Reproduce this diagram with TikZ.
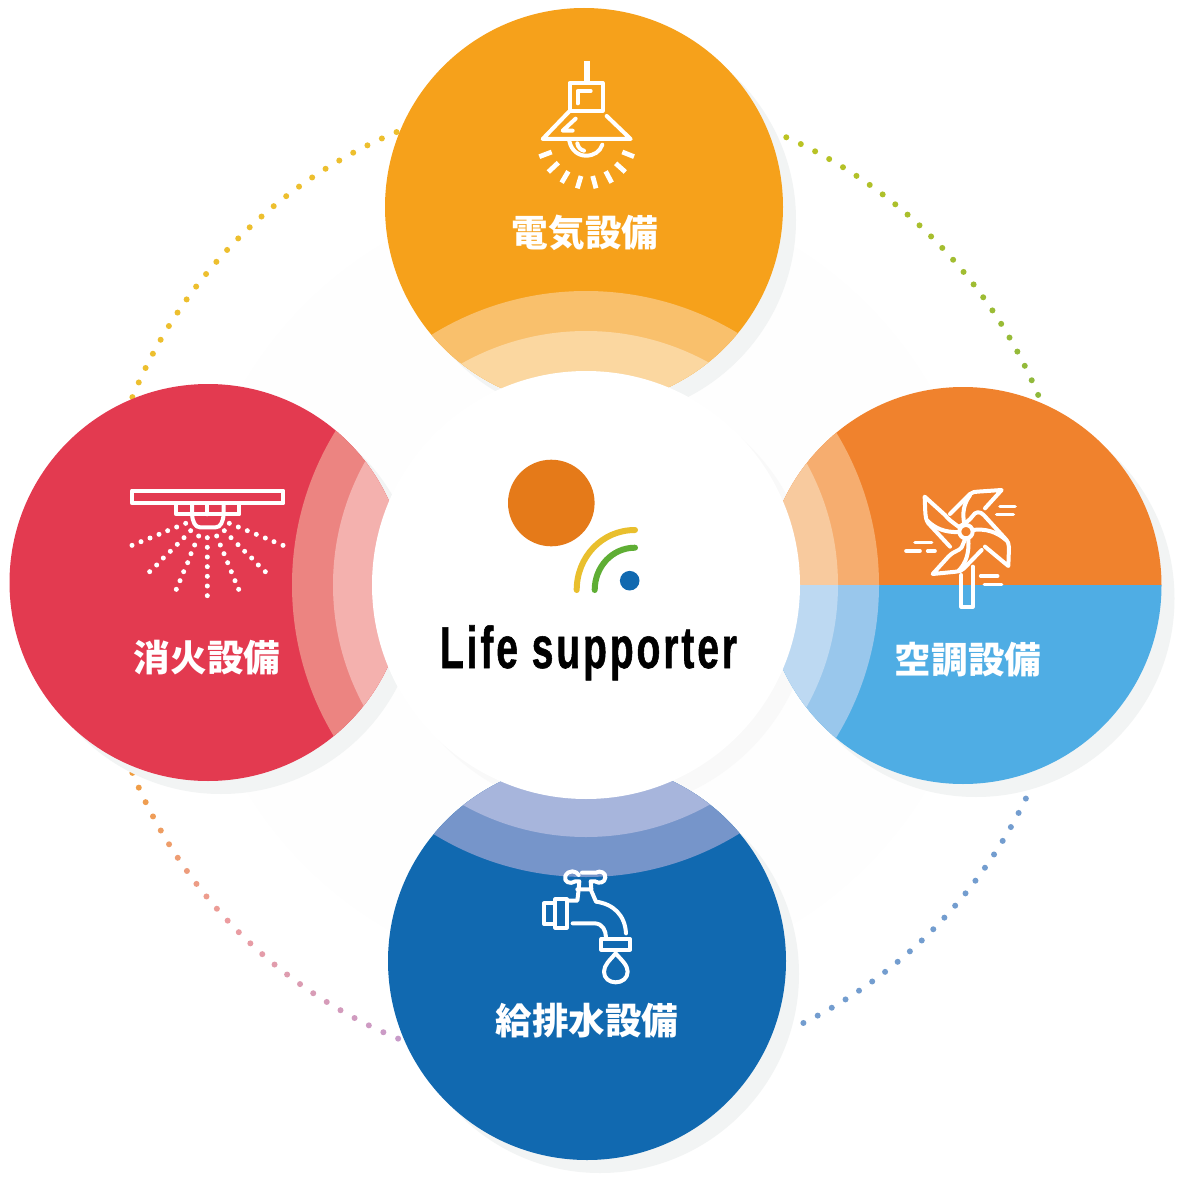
\documentclass[tikz,border=0pt]{standalone}
\usepackage{fontspec}
\newfontfamily\cjk{Noto Sans CJK JP}
\newfontfamily\lifefont[FakeStretch=0.66,LetterSpace=5,FakeBold=0.9]{Liberation Sans Bold}
\definecolor{shadowc}{HTML}{F2F4F4}
\definecolor{faintc}{HTML}{FEFEFE}
\definecolor{centershadow}{HTML}{F9F9F9}
\definecolor{ybase}{HTML}{F6A11B}\definecolor{ymid}{HTML}{F9C06C}\definecolor{ylight}{HTML}{FBD7A0}
\definecolor{obase}{HTML}{F0822D}\definecolor{omid}{HTML}{F6AD6F}\definecolor{olight}{HTML}{F8CA9E}
\definecolor{cbase}{HTML}{4FADE4}\definecolor{cmid}{HTML}{99C7EC}\definecolor{clight}{HTML}{BDD9F2}
\definecolor{bbase}{HTML}{1169B0}\definecolor{bmid}{HTML}{7695CA}\definecolor{blight}{HTML}{A7B5DC}
\definecolor{rbase}{HTML}{E33A50}\definecolor{rmid}{HTML}{EC8481}\definecolor{rlight}{HTML}{F4B1AE}
\definecolor{dotTRa}{HTML}{BCC322}\definecolor{dotTRb}{HTML}{8FB93C}
\definecolor{dotTL}{HTML}{EDBF2E}
\definecolor{dotBLa}{HTML}{F09D3E}\definecolor{dotBLb}{HTML}{EC9C9F}\definecolor{dotBLc}{HTML}{C89BC9}
\definecolor{dotBR}{HTML}{739DCF}
\definecolor{logoO}{HTML}{E57A19}\definecolor{logoY}{HTML}{E9BF2D}\definecolor{logoG}{HTML}{5FAE34}
\tikzset{
  iconline/.style={draw=white,line width=4pt,line join=round,line cap=round,fill=none},
  iconthick/.style={draw=white,line width=4.8pt,line cap=butt,fill=none},
  windline/.style={draw=white,line width=3.6pt,line cap=round},
  label/.style={text=white,inner sep=0pt,font=\cjk\bfseries\fontsize{36.6}{36.6}\selectfont},
  iconzoom/.style={x=0.33333pt,y=-0.33333pt}
}
\begin{document}
\begin{tikzpicture}[x=1pt,y=-1pt]
\useasboundingbox (0,0) rectangle (1184,1180);
\fill[white] (0,0) rectangle (1184,1180);
% faint ring
\fill[faintc] (586,585) circle[radius=397];
% dotted ring
\foreach \i in {0,...,23}{
  \pgfmathsetmacro\a{-65.9+\i*43.1/23}\pgfmathsetmacro\p{100-\i*100/23}
  \fill[dotTRa!\p!dotTRb] ({586+490.5*cos(\a)},{585+490.5*sin(\a)}) circle[radius=3];}
\foreach \i in {0,...,24}{
  \pgfmathsetmacro\a{-112.7-\i*44.8/24}
  \fill[dotTL] ({586+491*cos(\a)},{585+491*sin(\a)}) circle[radius=3];}
\foreach \i in {0,...,11}{
  \pgfmathsetmacro\a{157.5-\i*45/24}\pgfmathsetmacro\p{100-\i*100/11}
  \fill[dotBLa!\p!dotBLb] ({586+491*cos(\a)},{585+491*sin(\a)}) circle[radius=3];}
\foreach \i in {12,...,24}{
  \pgfmathsetmacro\a{157.5-\i*45/24}\pgfmathsetmacro\p{100-(\i-11)*100/13}
  \fill[dotBLb!\p!dotBLc] ({586+491*cos(\a)},{585+491*sin(\a)}) circle[radius=3];}
\foreach \i in {0,...,20}{
  \pgfmathsetmacro\a{25.9+\i*37.7/20}
  \fill[dotBR] ({586+489*cos(\a)},{585+489*sin(\a)}) circle[radius=3];}
% centre shadow
\fill[centershadow] (599,598) circle[radius=214];
% circle shadows
\fill[shadowc] (597,220) circle[radius=199];
\fill[shadowc] (976,598.5) circle[radius=198.5];
\fill[shadowc] (600,974) circle[radius=199];
\fill[shadowc] (221,595.5) circle[radius=198.5];
% top circle
\begin{scope}
  \clip (584,207) circle[radius=199];
  \fill[ybase] (380,0) rectangle (790,410);
  \fill[ymid] (586,585) circle[radius=294];
  \fill[ylight] (586,585) circle[radius=254];
\end{scope}
% right circle
\begin{scope}
  \clip (963,585.5) circle[radius=198.5];
  \fill[obase] (760,380) rectangle (1170,585);
  \fill[cbase] (760,585) rectangle (1170,790);
  \begin{scope}
    \clip (760,380) rectangle (1170,585);
    \fill[omid] (586,585) circle[radius=293];
    \fill[olight] (586,585) circle[radius=252];
  \end{scope}
  \begin{scope}
    \clip (760,585) rectangle (1170,790);
    \fill[cmid] (586,585) circle[radius=293];
    \fill[clight] (586,585) circle[radius=252];
  \end{scope}
\end{scope}
% bottom circle
\begin{scope}
  \clip (587,961) circle[radius=199];
  \fill[bbase] (380,760) rectangle (790,1165);
  \fill[bmid] (586,585) circle[radius=292];
  \fill[blight] (586,585) circle[radius=252];
\end{scope}
% left circle
\begin{scope}
  \clip (208,582.5) circle[radius=198.5];
  \fill[rbase] (0,380) rectangle (410,785);
  \fill[rmid] (586,585) circle[radius=294];
  \fill[rlight] (586,585) circle[radius=253];
\end{scope}
% centre
\fill[white] (586,585) circle[radius=214];
% logo
\fill[logoO] (551.3,503) circle[radius=43.3];
\fill[bbase] (629.7,580.7) circle[radius=9.8];
\draw[logoY,line width=6pt,line cap=round] (576.7,590) .. controls (576.7,557) and (602,530) .. (635,530);
\draw[logoG,line width=6pt,line cap=round] (594.7,590) .. controls (594.7,567) and (612,547.7) .. (635,547.7);
\node[anchor=base,inner sep=0pt,text=black,font=\lifefont\fontsize{59}{59}\selectfont] (life) at (588.5,668) {Life supporter};
% labels
\node[label] (denki) at (585,233) {電気設備};
\node[label] (kucho) at (968,660) {空調設備};
\node[label] (kyuhai) at (587,1021) {給排水設備};
\node[label] (shoka) at (207,658) {消火設備};
% lamp icon
\begin{scope}[iconzoom,shift={(500pt,-40pt)}]
  \draw[white,line width=5.7pt] (261,63) -- (261,127);
  \draw[iconline] (209,129) rectangle (308,212);
  \draw[iconline] (233,190) -- (233,153) -- (272,153);
  \draw[iconline] (207,215) -- (128,297) -- (392,297) -- (320,228);
  \draw[iconline] (227,236) -- (188,272) -- (218,272);
  \draw[iconline] (208,303) .. controls (214,332) and (235,347) .. (258,347) .. controls (282,347) and (300,335) .. (307,314);
  \draw[iconline] (232,310) .. controls (234,322) and (242,330) .. (252,332);
  \foreach \ax/\ay/\bx/\by in {118/350/155/336,145/396/175/368,185/428/205/394,232/445/243/408,288/445/278/408,335/428/317/394,376/396/347/370,402/350/367/336}
    \draw[iconthick] (\ax,\ay) -- (\bx,\by);
\end{scope}
% pinwheel icon
\begin{scope}[iconzoom,shift={(890pt,-470pt)}]
  \draw[iconline] (228,185) circle[radius=20];
  % top blade
  \draw[iconline] (180,132) -- (240,72) .. controls (248,66) and (255,65) .. (262,65) -- (335,60) -- (285,115);
  \draw[iconline] (240,76) .. controls (222,100) and (215,130) .. (224,165);
  % right blade
  \draw[iconline] (208,170) .. controls (225,160) and (240,150) .. (248,138) .. controls (255,125) and (270,122) .. (282,136) -- (345,205) .. controls (354,215) and (357,222) .. (357,232) -- (355,288) -- (285,230);
  \draw[iconline] (348,210) .. controls (320,185) and (285,175) .. (248,180);
  % bottom blade
  \draw[iconline] (275,240) -- (222,295) .. controls (215,302) and (208,305) .. (198,305) -- (128,312) -- (175,260) .. controls (195,240) and (205,245) .. (215,232) -- (225,208);
  \draw[iconline] (205,303) .. controls (228,280) and (238,250) .. (235,205);
  % left blade
  \draw[iconline] (180,230) -- (115,160) .. controls (108,150) and (107,140) .. (106,130) -- (104,80) -- (165,135) .. controls (175,148) and (185,155) .. (208,172);
  \draw[iconline] (112,152) .. controls (135,175) and (165,188) .. (207,186);
  % stick
  \draw[iconline] (214,315) -- (214,410) -- (248,410) -- (248,290);
  % wind
  \foreach \ax/\ay/\bx/\by in {75/218/125/218,48/243/90/243,113/243/135/243,330/110/375/110,320/133/370/133,272/318/323/318,283/343/335/343}
    \draw[windline] (\ax,\ay) -- (\bx,\by);
\end{scope}
% faucet icon
\begin{scope}[iconzoom,shift={(520pt,-850pt)}]
  \draw[iconline] (186,68) -- (228,68) .. controls (240,60) and (258,68) .. (256,83) .. controls (254,98) and (238,102) .. (225,94) -- (212,94) -- (214,118);
  \draw[iconline] (176,75) .. controls (170,62) and (145,58) .. (136,78) .. controls (130,95) and (150,105) .. (166,94) -- (178,94) -- (176,118);
  \draw[iconline] (176,118) -- (172,152) -- (140,152);
  \draw[iconline] (172,118) -- (212,118) -- (228,155) .. controls (280,162) and (315,195) .. (318,250);
  \draw[iconline] (158,220) -- (225,220) .. controls (248,222) and (257,240) .. (258,262);
  \draw[iconline] (106,148) rectangle (140,233);
  \draw[iconline] (72,160) rectangle (106,222);
  \draw[iconline] (244,267) rectangle (330,299);
  \draw[iconline] (287,310) .. controls (270,330) and (252,345) .. (252,365) .. controls (252,385) and (268,397) .. (287,397) .. controls (306,397) and (323,385) .. (323,365) .. controls (323,345) and (304,330) .. (287,310) -- cycle;
\end{scope}
% sprinkler icon
\begin{scope}[iconzoom,shift={(120pt,-480pt)}]
  \draw[iconline] (36,32) rectangle (490,70);
  \draw[iconline] (168,72) -- (168,103) -- (358,103) -- (358,72);
  \draw[iconline] (216,72) -- (216,103) .. controls (218,125) and (225,142) .. (240,142) -- (287,142) .. controls (302,142) and (309,125) .. (311,103) -- (311,72);
  \draw[iconline] (262,72) -- (262,103);
  \foreach \px/\py in {36/196,63/185,90/174,117/163,143/152,170/141,197/130,489/196,462/185,436/174,409/163,382/152,355/141,328/130,
    89/275,110/255,130/234,151/214,172/193,192/173,212/152,436/275,415/255,395/234,374/214,354/194,333/173,313/152,
    169/328,180/302,191/275,203/248,213/221,224/195,236/168,356/328,345/302,334/275,323/248,312/221,301/195,290/168,
    262/173,262/202,262/231,262/260,262/289,262/318,262/347}
    \fill[white] (\px,\py) circle[radius=7.5];
\end{scope}
\end{tikzpicture}
\end{document}
